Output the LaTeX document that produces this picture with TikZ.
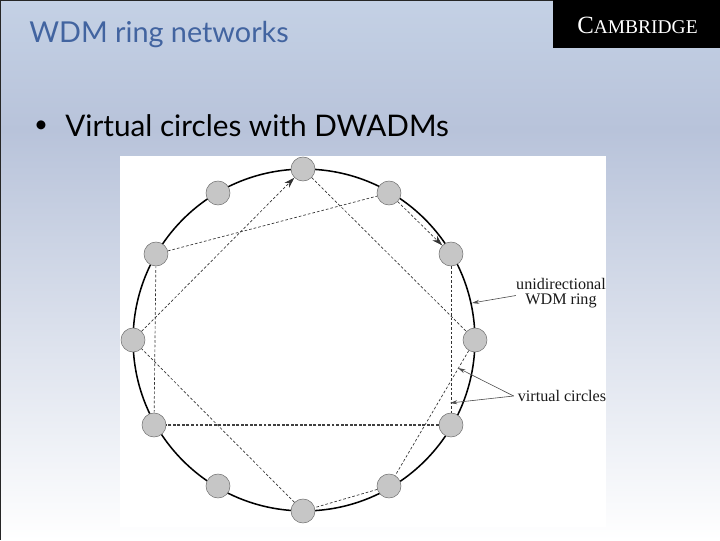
\documentclass[tikz,border=0pt]{standalone}
\usepackage{fontspec}
\setmainfont{Liberation Serif}
\newfontfamily\slidefont{Lato}
\usetikzlibrary{arrows.meta}
\definecolor{bgtop}{RGB}{196,209,229}
\definecolor{bgmid}{RGB}{184,195,218}
\definecolor{titleblue}{RGB}{66,100,160}
\definecolor{dwadm}{RGB}{198,198,198}
\tikzset{
  x=0.75pt,y=-0.75pt,
  dwadmnode/.style={circle,draw=black!55,line width=0.4pt,fill=dwadm,minimum size=18pt,inner sep=0pt},
  ringline/.style={line width=1.15pt,black},
  virtline/.style={line width=0.5pt,black!80,dash pattern=on 2pt off 1.5pt},
  virtheavy/.style={line width=0.85pt,black!75,dash pattern=on 2.2pt off 1.2pt},
  tipped/.style={-{Stealth[length=8pt,width=5pt]}},
  callout/.style={line width=0.45pt,black!70,-{Stealth[length=5.5pt,width=3pt]}},
  figlabel/.style={font=\fontsize{12.1pt}{11.2pt}\selectfont,align=center,inner sep=0pt,text=black!90},
  slidetext/.style={anchor=base west,inner sep=0pt},
}
\begin{document}
\begin{tikzpicture}
\useasboundingbox (0,0) rectangle (720,540);
% background
\shade[top color=bgtop,bottom color=bgmid] (0,0) rectangle (720,130);
\shade[top color=bgmid,bottom color=white] (0,130) rectangle (720,540);
\fill[white] (120,156) rectangle (606,527);
\draw[line width=0.9pt,black!85] (0,540) -- (0,0) -- (720,0);
% header
\fill[black] (553,0) rectangle (720,48);
\node[inner sep=0pt,text=white] (brand) at (637.5,25) {\fontsize{18.6pt}{18pt}\selectfont C\fontsize{14.6pt}{18pt}\selectfont AMBRIDGE};
\node[slidetext,text=titleblue,font=\slidefont\fontsize{21.6pt}{24pt}\selectfont] (title) at (29,42) {WDM ring networks};
\node[inner sep=0pt,font=\slidefont\fontsize{18pt}{18pt}\selectfont] (bullet) at (41,127) {•};
\node[slidetext,font=\slidefont\fontsize{22.3pt}{24pt}\selectfont] (body) at (65,136) {Virtual circles with DWADMs};
% ring
\coordinate (ringc) at (304,340);
\draw[ringline] (304,340) circle[radius=128.2pt];
% DWADM nodes
\node[dwadmnode] (n0) at (303,169) {};
\node[dwadmnode] (n1) at (389,193) {};
\node[dwadmnode] (n2) at (451,254) {};
\node[dwadmnode] (n3) at (475,340) {};
\node[dwadmnode] (n4) at (451,425) {};
\node[dwadmnode] (n5) at (389,486) {};
\node[dwadmnode] (n6) at (303,511) {};
\node[dwadmnode] (n7) at (218,486) {};
\node[dwadmnode] (n8) at (154,425) {};
\node[dwadmnode] (n9) at (133,340) {};
\node[dwadmnode] (n10) at (156,254) {};
\node[dwadmnode] (n11) at (218,193) {};
% virtual circle A
\draw[virtline,tipped] (n9) -- (n0);
\draw[virtline] (n0) -- (n3);
\draw[virtline] (n3) -- (n5);
\draw[virtline] (n5) -- (n6);
\draw[virtline] (n6) -- (n9);
% virtual circle B
\draw[virtline] (n10) -- (n1);
\draw[virtline,tipped] (n1) -- (n2);
\draw[virtline] (n2) -- (n4);
\draw[virtheavy] (n4) -- (n8);
\draw[virtline] (n8) -- (n10);
% labels
\node[figlabel] (lring) at (561,293.5) {unidirectional\\WDM ring};
\node[figlabel] (lvirt) at (562,396) {virtual circles};
\coordinate (ringpt) at (472,303);
\coordinate (vpa) at (458,368);
\coordinate (vpb) at (450,403);
\draw[callout] (lring.west) ++(0,2) -- (ringpt);
\draw[callout] (lvirt.west) ++(-4,0) -- (vpa);
\draw[callout] (lvirt.west) ++(-4,0) -- (vpb);
\end{tikzpicture}
\end{document}
